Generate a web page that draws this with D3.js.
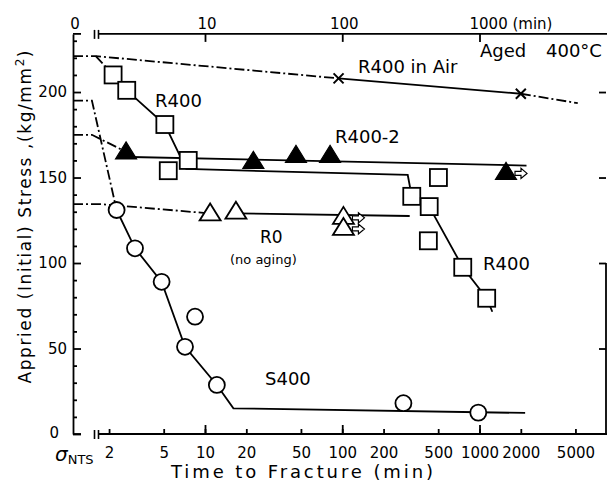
<!DOCTYPE html>
<html>
<head>
<meta charset="utf-8">
<script src="https://cdn.jsdelivr.net/npm/d3@7"></script>
<style>
body { margin: 0; background: #fff; }
svg text { font-family: 'DejaVu Sans', sans-serif; fill: #000; }
.axis path, .axis line { stroke: #000; stroke-width: 1.8; }
.axis text { font-size: 15px; }
</style>
</head>
<body>
<div id="chart"></div>
<script>
const WIDTH = 607, HEIGHT = 484;

// time to fracture (min), initial stress (kg/mm2)
const r400Pts = [[2.14, 210], [2.69, 201], [5.1, 181], [7.55, 160], [5.4, 154], [321, 139], [430, 133], [502, 150], [424, 113], [755, 97.5], [1128, 79.4]];
const r400Fit = [[2.69, 201], [5.1, 181], [7.3, 155], [300, 151.5], [321, 139], [430, 133], [755, 97.5], [1128, 79.4], [1240, 71.5]];
const r400AirPts = [[94, 208], [2000, 199]];
const r400AirTail = [[2000, 199], [5200, 193.5]];
const r4002Pts = [[2.66, 165], [22.5, 159.5], [46, 163], [81.5, 163], [1560, 153]];
const r4002Fit = [[2.9, 162], [2200, 157]];
const r0Pts = [[10.9, 129], [16.8, 130], [102, 127], [102, 120.5]];
const r0Fit = [[17, 129], [310, 127.5]];
const s400Pts = [[2.27, 131], [3.09, 108.6], [4.83, 89], [8.46, 68.6], [7.15, 51], [12.2, 28.7], [279, 18], [980, 12.5]];
const s400Fit = [[2.27, 131], [3.09, 108.6], [4.83, 89], [7.15, 51], [12.2, 28.7], [16.1, 15], [2150, 12.3]];

// notched tensile strength (t = 0) of each series
const sigmaR400 = 221, sigmaS400 = 195, sigmaR4002 = 175, sigmaR0 = 134.5;

// runouts (not fractured)
const runouts = [[102, 127], [102, 120.5], [1560, 153]];

const bottomTicks = [2, 5, 10, 20, 50, 100, 200, 500, 1000, 2000, 5000];
const decadeTicks = [10, 100, 1000];
const yMajor = [0, 50, 100, 150, 200];
const yMinor = d3.range(10, 240, 10).filter(v => v % 50 !== 0);

const x = d3.scaleLog().domain([1, 10000]).range([67.75, 616.75]);
const y = d3.scaleLinear().domain([0, 234]).range([434, 33.9]);
const X0 = 73, XR = 606;
const T0 = x.invert(X0);
const KNEE = 1.5;

const svg = d3.select('#chart')
    .append('svg')
    .attr('width', WIDTH)
    .attr('height', HEIGHT);

// y axis (ticks inside)
const yAxisG = svg.append('g')
    .attr('class', 'axis')
    .attr('transform', `translate(${X0},0)`)
    .call(d3.axisLeft(y).tickValues(yMajor).tickSizeInner(-8).tickSizeOuter(0).tickPadding(6));
yAxisG.selectAll('.tick').filter(d => d === 0).select('text').attr('x', -14).attr('dy', '0.2em');

svg.append('g')
    .attr('class', 'axis')
    .attr('transform', `translate(${X0},0)`)
    .call(d3.axisLeft(y).tickValues(yMinor).tickSizeInner(-4).tickSizeOuter(0).tickFormat(''))
    .select('.domain').remove();

// right frame
svg.append('g')
    .attr('class', 'axis')
    .attr('transform', `translate(${XR},0)`)
    .call(d3.axisRight(y).tickValues(yMajor.slice(1)).tickSizeInner(-7).tickSizeOuter(0).tickFormat(''))
    .select('.domain').remove();
svg.append('line')
    .attr('x1', XR).attr('x2', XR)
    .attr('y1', y(100)).attr('y2', y(0))
    .attr('stroke', '#000').attr('stroke-width', 1.8);

// bottom axis
const bottomG = svg.append('g')
    .attr('class', 'axis')
    .attr('transform', `translate(0,${y(0)})`)
    .call(d3.axisBottom(x).tickValues(bottomTicks).tickSizeInner(-5).tickSizeOuter(0).tickPadding(13).tickFormat(d3.format('d')));
bottomG.select('.domain').remove();
svg.append('g')
    .attr('class', 'axis')
    .attr('transform', `translate(0,${y(0)})`)
    .call(d3.axisBottom(x).tickValues(decadeTicks).tickSizeInner(-9).tickSizeOuter(0).tickFormat(''))
    .select('.domain').remove();

// top axis
svg.append('g')
    .attr('class', 'axis')
    .attr('transform', `translate(0,${y(234)})`)
    .call(d3.axisTop(x).tickValues(decadeTicks).tickSizeInner(-8).tickSizeOuter(0).tickFormat(''))
    .select('.domain').remove();

// axis lines with break marks
[y(0), y(234)].forEach(yy => {
    svg.append('line').attr('x1', X0).attr('x2', 81).attr('y1', yy).attr('y2', yy)
        .attr('stroke', '#000').attr('stroke-width', 1.8);
    svg.append('line').attr('x1', 99).attr('x2', WIDTH).attr('y1', yy).attr('y2', yy)
        .attr('stroke', '#000').attr('stroke-width', 1.8);
    [94.5, 98.5].forEach(bx => {
        svg.append('line').attr('x1', bx).attr('x2', bx).attr('y1', yy - 4).attr('y2', yy + 5)
            .attr('stroke', '#000').attr('stroke-width', 1.6);
    });
});

// top axis labels
const topLabels = [['0', X0], ['10', x(10)], ['100', x(100)]];
topLabels.forEach(([t, px]) => {
    svg.append('text').attr('x', px + 2).attr('y', 29)
        .attr('text-anchor', 'middle').style('font-size', '15px').text(t);
});
svg.append('text').attr('x', x(1000) - 10).attr('y', 29)
    .style('font-size', '15px').text('1000 (min)');

// sigma NTS label
const sig = svg.append('text').attr('x', 55).attr('y', 461).style('font-size', '20px');
sig.append('tspan').style('font-style', 'italic').text('σ');
sig.append('tspan').attr('dy', 3).style('font-size', '13px').text('NTS');

// axis titles
svg.append('text')
    .attr('transform', 'rotate(-90)')
    .attr('x', -217).attr('y', 31)
    .attr('text-anchor', 'middle')
    .attr('textLength', 333)
    .attr('lengthAdjust', 'spacing')
    .style('font-size', '17px')
    .html('Appried (Initial) Stress ,(kg/mm<tspan dy="-7" font-size="12">2</tspan><tspan dy="7">)</tspan>');

svg.append('text')
    .attr('x', 302).attr('y', 478)
    .attr('text-anchor', 'middle')
    .attr('textLength', 262)
    .attr('lengthAdjust', 'spacing')
    .style('font-size', '18px')
    .text('Time to Fracture (min)');

// lines
const line = d3.line().x(d => x(d[0])).y(d => y(d[1]));
const DASHDOT = '10,3,2,3';

function drawLine(pts, dashed) {
    svg.append('path')
        .attr('d', line(pts))
        .attr('fill', 'none')
        .attr('stroke', '#000')
        .attr('stroke-width', 1.8)
        .attr('stroke-dasharray', dashed ? DASHDOT : null);
}

// starts at sigma NTS on the axis
drawLine([[T0, sigmaR400], [1.6, sigmaR400], r400AirPts[0]], true);
drawLine([[1.6, sigmaR400], r400Pts[0]], true);
drawLine([[T0, sigmaS400], [KNEE, sigmaS400], s400Pts[0]], true);
drawLine([[T0, sigmaR4002], [KNEE, sigmaR4002], r4002Pts[0]], true);
drawLine([[T0, sigmaR0], [1.7, sigmaR0], r0Pts[0]], true);

drawLine(r400AirPts, false);
drawLine(r400AirTail, true);
drawLine(r400Fit, false);
drawLine(r4002Fit, false);
drawLine(r0Fit, false);
drawLine(s400Fit, false);

// markers
const triPath = 'M0,-10L10.5,7L-10.5,7Z';

svg.append('g').selectAll('rect')
    .data(r400Pts)
    .join('rect')
    .attr('x', d => x(d[0]) - 8.5)
    .attr('y', d => y(d[1]) - 8.5)
    .attr('width', 17).attr('height', 17)
    .attr('fill', '#fff').attr('stroke', '#000').attr('stroke-width', 1.8);

svg.append('g').selectAll('circle')
    .data(s400Pts)
    .join('circle')
    .attr('cx', d => x(d[0]))
    .attr('cy', d => y(d[1]))
    .attr('r', 8)
    .attr('fill', '#fff').attr('stroke', '#000').attr('stroke-width', 1.8);

svg.append('g').selectAll('path')
    .data(r0Pts)
    .join('path')
    .attr('d', triPath)
    .attr('transform', d => `translate(${x(d[0])},${y(d[1])})`)
    .attr('fill', '#fff').attr('stroke', '#000').attr('stroke-width', 1.8);

svg.append('g').selectAll('path')
    .data(r4002Pts)
    .join('path')
    .attr('d', triPath)
    .attr('transform', d => `translate(${x(d[0])},${y(d[1])})`)
    .attr('fill', '#000').attr('stroke', '#000').attr('stroke-width', 1.2);

svg.append('g').selectAll('path')
    .data(r400AirPts)
    .join('path')
    .attr('d', 'M-5,-5L5,5M-5,5L5,-5')
    .attr('transform', d => `translate(${x(d[0])},${y(d[1])})`)
    .attr('stroke', '#000').attr('stroke-width', 2);

// runout arrows
svg.append('g').selectAll('path')
    .data(runouts)
    .join('path')
    .attr('d', 'M0,-2H6V-5L12,0L6,5V2H0Z')
    .attr('transform', d => `translate(${x(d[0]) + 9},${y(d[1]) + 1})`)
    .attr('fill', '#fff').attr('stroke', '#000').attr('stroke-width', 1.2);

// annotations
const notes = [
    ['R400 in Air', 358, 73, 18],
    ['Aged', 480, 57, 18],
    ['400°C', 546, 57, 18],
    ['R400', 155, 107, 18],
    ['R400-2', 335, 143, 18],
    ['R0', 260, 243, 17],
    ['(no aging)', 230, 264, 13],
    ['R400', 483, 270, 18],
    ['S400', 265, 385, 18]
];
notes.forEach(([t, px, py, fs]) => {
    svg.append('text').attr('x', px).attr('y', py).style('font-size', fs + 'px').text(t);
});
</script>
</body>
</html>
